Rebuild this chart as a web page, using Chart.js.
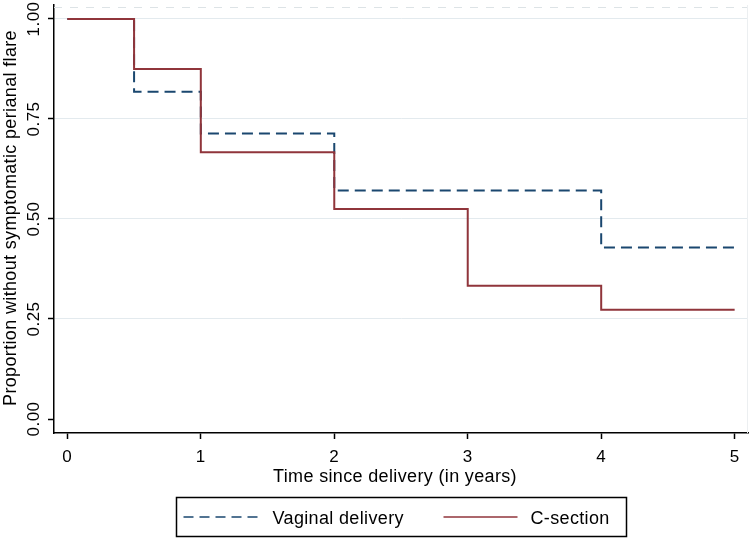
<!DOCTYPE html>
<html>
<head>
<meta charset="utf-8">
<script src="https://cdn.jsdelivr.net/npm/chart.js@4.4.0/dist/chart.umd.min.js"></script>
<style>
  html, body { margin: 0; padding: 0; background: #fff; }
  #wrap { width: 750px; height: 539px; }
</style>
</head>
<body>
<div id="wrap"><canvas id="km" width="750" height="539"></canvas></div>
<script>
// Kaplan-Meier estimates
const vaginalTime = [0, 0.5, 1, 2, 4, 5];
const vaginalSurv = [1, 0.818, 0.714, 0.571, 0.429, 0.429];
const csectionTime = [0, 0.5, 1, 2, 3, 4, 5];
const csectionSurv = [1, 0.875, 0.667, 0.525, 0.333, 0.273, 0.273];

const xTicks = [0, 1, 2, 3, 4, 5];
const yTicks = [0, 0.25, 0.5, 0.75, 1];

const xTitle = "Time since delivery (in years)";
const yTitle = "Proportion without symptomatic perianal flare";

const FONT = '"Liberation Sans", Arial, sans-serif';
const navy = "#1a476f";
const maroon = "#90353b";

function toPoints(xs, ys) {
  return xs.map((x, i) => ({ x: x, y: ys[i] }));
}

// all the text is drawn here so the Stata spacing can be matched
const textPlugin = {
  id: "stataText",
  afterDraw(chart) {
    const ctx = chart.ctx;
    const a = chart.chartArea;
    const xs = chart.scales.x;
    const ys = chart.scales.y;
    ctx.save();
    ctx.fillStyle = "#000";
    ctx.textBaseline = "alphabetic";
    ctx.textAlign = "center";

    // tick labels
    ctx.font = "17px " + FONT;
    ctx.letterSpacing = "0.5px";
    xTicks.forEach((v) => {
      ctx.fillText(String(v), xs.getPixelForValue(v), 462);
    });
    yTicks.forEach((v) => {
      ctx.save();
      ctx.translate(39, ys.getPixelForValue(v));
      ctx.rotate(-Math.PI / 2);
      ctx.fillText(v.toFixed(2), 0, 0);
      ctx.restore();
    });

    // axis titles
    ctx.font = "18px " + FONT;
    ctx.letterSpacing = "0.35px";
    ctx.fillText(xTitle, (a.left + a.right) / 2 - 6, 482);
    ctx.save();
    ctx.translate(16, (a.top + a.bottom) / 2 - 1);
    ctx.rotate(-Math.PI / 2);
    ctx.fillText(yTitle, 0, 0);
    ctx.restore();
    ctx.restore();
  },
};

// faint outer border on top and right, plus the boxed legend
const frameLegendPlugin = {
  id: "frameLegend",
  beforeDatasetsDraw(chart) {
    const ctx = chart.ctx;
    const a = chart.chartArea;
    ctx.save();
    ctx.strokeStyle = "#dde3e6";
    ctx.lineWidth = 1;
    ctx.setLineDash([8, 8]);
    ctx.beginPath();
    ctx.moveTo(a.left, a.top + 2.5);
    ctx.lineTo(a.right, a.top + 2.5);
    ctx.stroke();
    ctx.setLineDash([]);
    ctx.strokeStyle = "#eceff1";
    ctx.beginPath();
    ctx.moveTo(a.right - 0.5, a.top);
    ctx.lineTo(a.right - 0.5, a.bottom);
    ctx.stroke();
    ctx.restore();
  },
  afterDraw(chart) {
    const ctx = chart.ctx;
    const a = chart.chartArea;
    const cx = (a.left + a.right) / 2;
    const w = 450, h = 39;
    const left = Math.round(cx - w / 2) + 0.5;
    const top = 497.5;
    const mid = top + h / 2;
    ctx.save();
    ctx.strokeStyle = "#000";
    ctx.lineWidth = 1.5;
    ctx.strokeRect(left, top, w, h);

    const ds = chart.data.datasets;
    const items = [
      { ds: ds[1], x0: left + 7, x1: left + 83, tx: left + 96 },
      { ds: ds[0], x0: left + 267, x1: left + 341, tx: left + 354 },
    ];
    ctx.font = "18px " + FONT;
    ctx.letterSpacing = "0.35px";
    ctx.textBaseline = "alphabetic";
    ctx.textAlign = "left";
    items.forEach((it) => {
      ctx.strokeStyle = it.ds.borderColor;
      ctx.lineWidth = 1.5;
      ctx.setLineDash(it.ds.borderDash ? [10, 6] : []);
      ctx.beginPath();
      ctx.moveTo(it.x0, mid);
      ctx.lineTo(it.x1, mid);
      ctx.stroke();
      ctx.setLineDash([]);
      ctx.fillStyle = "#000";
      ctx.fillText(it.ds.label, it.tx, 524);
    });
    ctx.restore();
  },
};

const ctx = document.getElementById("km");

new Chart(ctx, {
  type: "line",
  data: {
    datasets: [
      {
        label: "C-section",
        data: toPoints(csectionTime, csectionSurv),
        borderColor: maroon,
        borderWidth: 2,
        stepped: true,
        pointRadius: 0,
        fill: false,
        order: 0,
      },
      {
        label: "Vaginal delivery",
        data: toPoints(vaginalTime, vaginalSurv),
        borderColor: navy,
        borderWidth: 2,
        borderDash: [11, 6],
        stepped: true,
        pointRadius: 0,
        fill: false,
        order: 1,
      },
    ],
  },
  options: {
    responsive: false,
    animation: false,
    layout: { padding: { left: 0, right: 2, top: 5, bottom: 53 } },
    plugins: {
      legend: { display: false },
      tooltip: { enabled: false },
    },
    scales: {
      x: {
        type: "linear",
        min: -0.1,
        max: 5.1,
        afterBuildTicks: (scale) => {
          scale.ticks = xTicks.map((v) => ({ value: v }));
        },
        afterFit: (scale) => {
          scale.height = 53;
        },
        ticks: { display: false },
        grid: {
          drawOnChartArea: false,
          tickLength: 6,
          tickColor: "#000",
          tickWidth: 1.5,
        },
        border: { color: "#000", width: 1.5 },
      },
      y: {
        min: -0.035,
        max: 1.035,
        afterBuildTicks: (scale) => {
          scale.ticks = yTicks.map((v) => ({ value: v }));
        },
        afterFit: (scale) => {
          scale.width = 54;
        },
        ticks: { display: false },
        grid: {
          color: (c) => (c.tick && c.tick.value === 0 ? "rgba(0,0,0,0)" : "#e3eaee"),
          lineWidth: 1,
          tickLength: 6,
          tickColor: "#000",
          tickWidth: 1.5,
        },
        border: { color: "#000", width: 1.5 },
      },
    },
  },
  plugins: [textPlugin, frameLegendPlugin],
});
</script>
</body>
</html>
